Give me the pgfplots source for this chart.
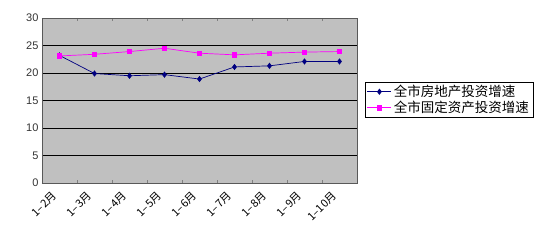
\documentclass[border=0pt]{standalone}
\usepackage{fontspec}
\setmainfont{Liberation Sans}
\newfontfamily\cjk{Noto Sans CJK SC}
\usepackage{pgfplots}
\pgfplotsset{compat=1.18}
\definecolor{plotgray}{RGB}{192,192,192}
\definecolor{navyb}{RGB}{0,0,128}
\definecolor{magp}{RGB}{255,0,255}
\begin{document}
\begin{tikzpicture}[x=1pt,y=1pt]
\useasboundingbox (0,0) rectangle (550,241);
\begin{axis}[
  at={(42pt,58pt)}, anchor=south west,
  scale only axis, width=315pt, height=165pt,
  xmin=-0.5, xmax=8.5, ymin=0, ymax=30,
  ytick={0,5,...,30},
  xtick={0,...,8},
  xticklabels={1–2月,1–3月,1–4月,1–5月,1–6月,1–7月,1–8月,1–9月,1–10月},
  xticklabel style={font=\cjk\fontsize{11}{13}\selectfont, shift={(-5pt,-11pt)}, rotate=45, anchor=east, inner sep=0pt},
  yticklabel style={font=\fontsize{11}{13}\selectfont, color=black!80},
  /pgf/number format/assume math mode=true,
  major x tick style={draw=none},
  minor xtick={0.5,1.5,...,7.5},
  minor tick length=3pt,
  major tick length=0pt,
  tick align=inside,
  ymajorgrids, major grid style={black, line width=0.7pt},
  axis background/.style={fill=plotgray},
  axis line style={gray!70!black, line width=0.6pt},
  legend style={at={(1.025,0.612)}, anchor=north west, draw=black, line width=0.4pt,
    font=\cjk\fontsize{13.5}{15}\selectfont, inner xsep=2pt, inner ysep=1pt, row sep=-1pt, fill=white},
  legend image code/.code={\draw[mark repeat=2,mark phase=2] plot coordinates {(0pt,0pt) (12pt,0pt) (24pt,0pt)};},
  legend cell align=left,
  clip=false,
]
\addplot[navyb, line width=0.7pt, mark=diamond*, mark size=2.6pt, mark options={fill=navyb, draw=navyb}]
  coordinates {(0,23.2) (1,19.9) (2,19.5) (3,19.7) (4,18.9) (5,21.1) (6,21.3) (7,22.1) (8,22.1)};
\addlegendentry{全市房地产投资增速}
\addplot[magp, line width=0.7pt, mark=square*, mark size=2.2pt, mark options={fill=magp, draw=magp}]
  coordinates {(0,23.1) (1,23.4) (2,23.9) (3,24.5) (4,23.6) (5,23.3) (6,23.6) (7,23.8) (8,23.9)};
\addlegendentry{全市固定资产投资增速}
\end{axis}
\end{tikzpicture}
\end{document}
